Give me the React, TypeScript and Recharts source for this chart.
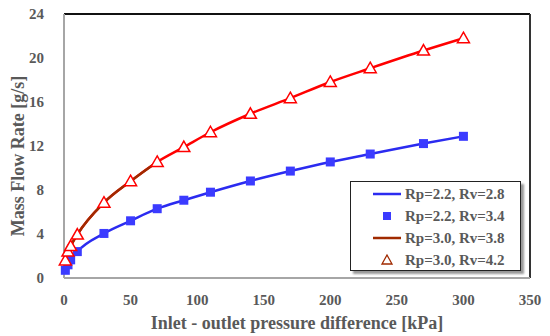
import React from "react";
import {
  ComposedChart,
  Line,
  XAxis,
  YAxis,
  ReferenceLine,
} from "recharts";

// inlet - outlet pressure difference [kPa]
const pressure = [1, 3, 5, 10, 30, 50, 70, 90, 110, 140, 170, 200, 230, 270, 300];
// Rp=2.2 series [g/s]
const rp22 = [0.7, 1.2, 1.65, 2.4, 4.05, 5.2, 6.3, 7.07, 7.8, 8.82, 9.72, 10.55, 11.27, 12.22, 12.88];
// Rp=3.0 series [g/s]
const rp30 = [1.6, 2.4, 2.9, 3.95, 6.85, 8.8, 10.55, 11.9, 13.25, 14.93, 16.35, 17.82, 19.07, 20.68, 21.8];

const xTicks = [0, 50, 100, 150, 200, 250, 300, 350];
const yTicks = [0, 4, 8, 12, 16, 20, 24];

const legendNames = [
  "Rp=2.2, Rv=2.8",
  "Rp=2.2, Rv=3.4",
  "Rp=3.0, Rv=3.8",
  "Rp=3.0, Rv=4.2",
];

const BLUE = "#2b2bf0";
const SQUARE = "#3b3bff";
const RED = "#ff0000";
const BROWN = "#a02a00";
const TEXT = "#595959";
const FONT = "'Liberation Serif', 'Times New Roman', serif";

const data = pressure.map((p, i) => ({
  p,
  blue: rp22[i],
  red: rp30[i],
  brown: p <= 70 ? rp30[i] : undefined,
}));

const Square = (props: any) => {
  const { cx, cy } = props;
  if (cx == null || cy == null) return null;
  return <rect x={cx - 4.5} y={cy - 4.5} width={9} height={9} fill={SQUARE} />;
};

const Triangle = (props: any) => {
  const { cx, cy } = props;
  if (cx == null || cy == null) return null;
  return (
    <path
      d={`M${cx},${cy - 6} L${cx + 6},${cy + 4.5} L${cx - 6},${cy + 4.5} Z`}
      fill="#fff"
      stroke={RED}
      strokeWidth={1.5}
    />
  );
};

const YLabel = () => (
  <text
    x={18}
    y={156}
    transform="rotate(-90 18 156)"
    textAnchor="middle"
    dominantBaseline="central"
    fill={TEXT}
    fontFamily={FONT}
    fontWeight="bold"
    fontSize={18}
  >
    Mass Flow Rate [g/s]
  </text>
);

const LegendBox = () => {
  const icons = [
    <line x1={0} y1={7} x2={28} y2={7} stroke={BLUE} strokeWidth={2.5} />,
    <rect x={10} y={3} width={8} height={8} fill={SQUARE} />,
    <line x1={0} y1={7} x2={28} y2={7} stroke={BROWN} strokeWidth={2.5} />,
    <path d="M14,2 L19,11 L9,11 Z" fill="none" stroke={BROWN} strokeWidth={1.3} />,
  ];
  return (
    <div
      style={{
        position: "absolute",
        left: 350,
        top: 181,
        width: 171,
        height: 90,
        border: "1.5px solid #222",
        background: "#fff",
        boxShadow: "3px 3px 2px #999",
        padding: "1px 0 0 22px",
        boxSizing: "border-box",
        fontFamily: FONT,
        fontWeight: "bold",
        fontSize: 15,
        color: TEXT,
      }}
    >
      {legendNames.map((n, i) => (
        <div key={n} style={{ display: "flex", alignItems: "center", height: 22 }}>
          <svg width={30} height={14} style={{ marginRight: 2 }}>
            {icons[i]}
          </svg>
          <span>{n}</span>
        </div>
      ))}
    </div>
  );
};

export default function App() {
  return (
    <div style={{ position: "absolute", left: 0, top: 0, width: 550, height: 336, background: "#fff" }}>
      <ComposedChart
        width={550}
        height={336}
        data={data}
        margin={{ top: 14, right: 20, bottom: 0, left: 0 }}
      >
        <XAxis
          dataKey="p"
          type="number"
          domain={[0, 350]}
          ticks={xTicks}
          height={58}
          axisLine={{ stroke: "#a6a6a6", strokeWidth: 2 }}
          tickLine={false}
          tickMargin={10}
          tick={{ fill: TEXT, fontFamily: FONT, fontWeight: "bold", fontSize: 15 }}
          label={{
            value: "Inlet - outlet pressure difference [kPa]",
            position: "insideBottom",
            offset: 7,
            fill: TEXT,
            fontFamily: FONT,
            fontWeight: "bold",
            fontSize: 18,
          }}
        />
        <YAxis
          type="number"
          domain={[0, 24]}
          ticks={yTicks}
          width={64}
          axisLine={{ stroke: "#a6a6a6", strokeWidth: 2 }}
          tickLine={false}
          tickMargin={14}
          tick={{ fill: TEXT, fontFamily: FONT, fontWeight: "bold", fontSize: 15 }}
          label={<YLabel />}
        />
        <ReferenceLine y={24} stroke="#111" strokeWidth={2} />
        <ReferenceLine x={350} stroke="#333" strokeWidth={2} />
        <Line
          dataKey="blue"
          type="monotone"
          stroke={BLUE}
          strokeWidth={2.5}
          dot={<Square />}
          isAnimationActive={false}
        />
        <Line
          dataKey="red"
          type="monotone"
          stroke={RED}
          strokeWidth={2.5}
          dot={false}
          isAnimationActive={false}
        />
        <Line
          dataKey="brown"
          type="monotone"
          stroke={BROWN}
          strokeWidth={2.5}
          dot={false}
          connectNulls={false}
          isAnimationActive={false}
        />
        <Line
          dataKey="red"
          type="monotone"
          stroke="none"
          dot={<Triangle />}
          legendType="none"
          isAnimationActive={false}
        />
      </ComposedChart>
      <LegendBox />
    </div>
  );
}
